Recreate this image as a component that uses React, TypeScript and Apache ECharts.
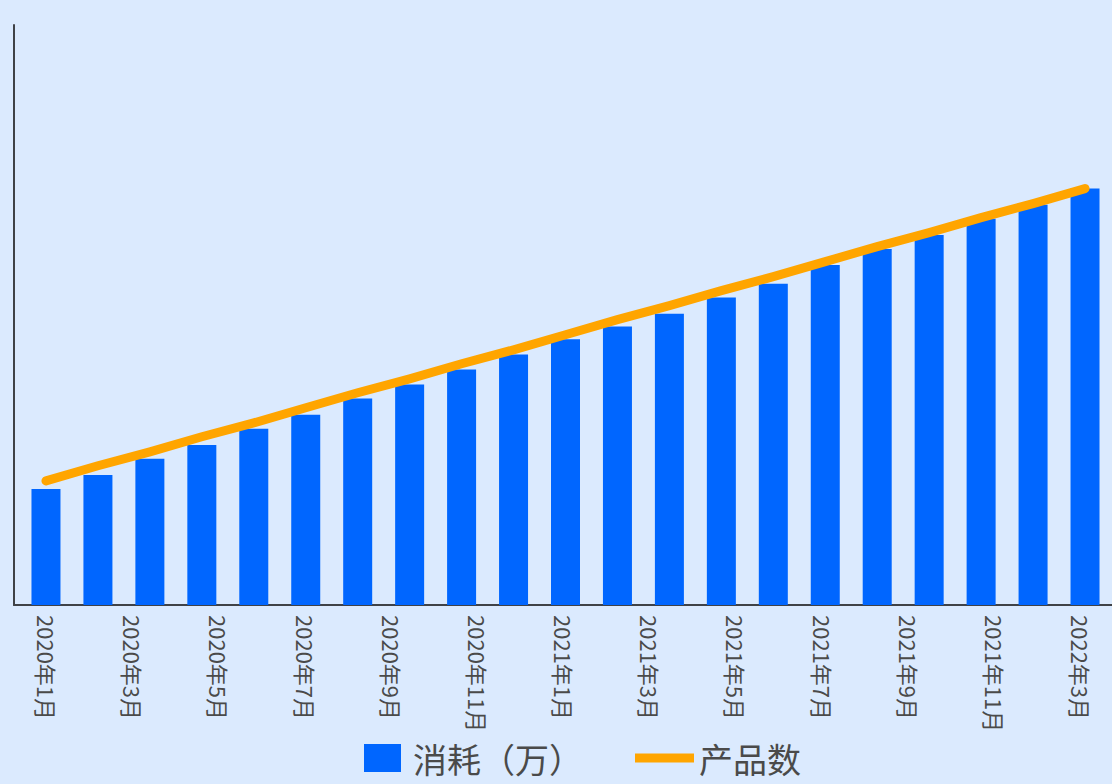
import React, { useEffect, useRef } from "react";
import * as echarts from "echarts";

// Monthly periods plotted as bars / line
const periods: string[] = [
  "2020年1月", "2020年2月", "2020年3月", "2020年4月", "2020年5月", "2020年6月", "2020年7月",
  "2020年8月", "2020年9月", "2020年10月", "2020年11月", "2020年12月", "2021年1月", "2021年2月",
  "2021年3月", "2021年4月", "2021年5月", "2021年6月", "2021年7月", "2021年8月", "2021年9月",
];

// Tick labels printed under the axis
const tickLabels: string[] = [
  "2020年1月", "2020年3月", "2020年5月", "2020年7月", "2020年9月", "2020年11月",
  "2021年1月", "2021年3月", "2021年5月", "2021年7月", "2021年9月", "2021年11月", "2022年3月",
];

// 消耗（万）
const consumption: number[] = [
  100, 112, 126, 138, 152, 164, 178, 190, 203, 216, 229,
  240, 251, 265, 277, 293, 307, 319, 333, 345, 359,
];

// 产品数
const productCount: number[] = [
  107, 120, 132, 145, 157, 170, 183, 195, 208, 220, 233,
  246, 258, 271, 283, 296, 309, 321, 334, 346, 359,
];

const BAR_NAME = "消耗（万）";
const LINE_NAME = "产品数";
const FONT = "'Noto Sans CJK SC', 'Noto Sans', sans-serif";
const AXIS_COLOR = "#3f4247";
const TEXT_COLOR = "#4a4a4a";

export default function App() {
  const ref = useRef<HTMLDivElement>(null);

  useEffect(() => {
    if (!ref.current) return;
    const chart = echarts.init(ref.current, undefined, { renderer: "svg" });

    const hiddenAxis = {
      show: true,
      axisLine: { show: false },
      axisTick: { show: false },
      axisLabel: { show: false },
      splitLine: { show: false },
    };

    const legendText = {
      fontSize: 34,
      lineHeight: 34,
      color: TEXT_COLOR,
      fontFamily: FONT,
    };

    chart.setOption({
      animation: false,
      backgroundColor: "#dbeafe",
      textStyle: { fontFamily: FONT },
      grid: [
        // frame with the two axis lines
        { left: 14, right: 0, top: 25, bottom: 179 },
        // bars and line
        { left: 20, right: 1, top: 25, bottom: 179 },
        // tick labels
        { left: 47, right: 31, top: 25, bottom: 179 },
      ],
      xAxis: [
        {
          gridIndex: 0,
          type: "value",
          min: 0,
          max: 1,
          axisLine: { show: true, onZero: false, lineStyle: { color: AXIS_COLOR, width: 2 } },
          axisTick: { show: false },
          axisLabel: { show: false },
          splitLine: { show: false },
        },
        {
          gridIndex: 1,
          type: "category",
          data: periods,
          boundaryGap: true,
          ...hiddenAxis,
        },
        {
          gridIndex: 2,
          type: "category",
          data: tickLabels,
          boundaryGap: false,
          axisLine: { show: false },
          axisTick: { show: false },
          splitLine: { show: false },
          axisLabel: {
            show: true,
            interval: 0,
            rotate: -90,
            margin: 10,
            fontSize: 22,
            color: TEXT_COLOR,
            fontFamily: FONT,
          },
        },
      ],
      yAxis: [
        {
          gridIndex: 0,
          type: "value",
          min: 0,
          max: 1,
          axisLine: { show: true, onZero: false, lineStyle: { color: AXIS_COLOR, width: 2 } },
          axisTick: { show: false },
          axisLabel: { show: false },
          splitLine: { show: false },
        },
        { gridIndex: 1, type: "value", min: 0, max: 500, ...hiddenAxis },
        { gridIndex: 2, type: "value", min: 0, max: 1, ...hiddenAxis },
      ],
      legend: [
        {
          data: [BAR_NAME],
          left: 364,
          top: 741,
          padding: 0,
          itemWidth: 37,
          itemHeight: 28,
          icon: "rect",
          textStyle: { ...legendText, padding: [0, 0, 0, 7] },
        },
        {
          data: [LINE_NAME],
          left: 635,
          top: 741,
          padding: 0,
          itemWidth: 59,
          itemHeight: 9,
          icon: "rect",
          textStyle: legendText,
        },
      ],
      series: [
        {
          name: BAR_NAME,
          type: "bar",
          xAxisIndex: 1,
          yAxisIndex: 1,
          data: consumption,
          barWidth: 29,
          itemStyle: { color: "#0066ff" },
        },
        {
          name: LINE_NAME,
          type: "line",
          xAxisIndex: 1,
          yAxisIndex: 1,
          data: productCount,
          symbol: "none",
          color: "#ffa500",
          itemStyle: { color: "#ffa500" },
          lineStyle: { color: "#ffa500", width: 9, cap: "round", join: "round" },
        },
      ],
    });

    return () => chart.dispose();
  }, []);

  return (
    <div
      ref={ref}
      style={{ position: "fixed", left: 0, top: 0, width: 1112, height: 784 }}
    />
  );
}
